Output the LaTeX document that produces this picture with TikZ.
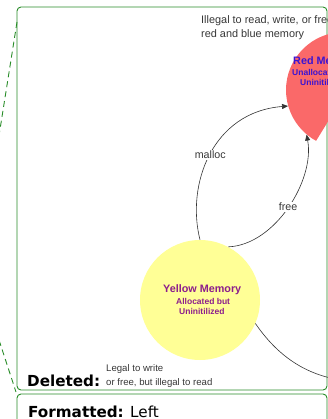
\documentclass[tikz,border=0pt]{standalone}
\usepackage{fontspec}
\setmainfont{Liberation Sans}
\newfontfamily\balloonfont{DejaVu Sans}
\usetikzlibrary{arrows.meta}

\definecolor{trackgreen}{RGB}{40,140,40}
\definecolor{memyellow}{RGB}{255,255,150}
\definecolor{memred}{RGB}{250,105,105}
\definecolor{redlabel}{RGB}{60,20,210}
\definecolor{yellowlabel}{RGB}{140,30,140}
\definecolor{notegray}{RGB}{55,55,55}

\tikzset{
  balloon/.style={draw=trackgreen, line width=0.9pt, rounded corners=4pt},
  leader/.style={draw=trackgreen, line width=0.9pt, dash pattern=on 6pt off 4pt},
  memcircle/.style={circle, inner sep=0pt, minimum size=116pt},
  transition/.style={draw=black!80, line width=0.6pt},
  arrowed/.style={transition, -{Triangle[length=6pt,width=5pt]}},
  edgelabel/.style={fill=white, inner sep=1pt, text=notegray, font=\fontsize{10.7}{12}\selectfont},
  notetext/.style={anchor=base west, inner sep=0pt, text=notegray},
  titletext/.style={anchor=base west, inner sep=0pt, font=\fontsize{10.8}{12}\selectfont\bfseries},
  subtext/.style={anchor=base west, inner sep=0pt, font=\fontsize{8.5}{10}\selectfont\bfseries},
}

\begin{document}
\begin{tikzpicture}[x=1pt, y=-1pt]
  \useasboundingbox (0,0) rectangle (328,419);
  \clip (0,0) rectangle (328,419);

  % comment balloons and their leader lines
  \draw[balloon] (17,7) rectangle (327,390);
  \draw[balloon] (17,394) rectangle (327,445);
  \coordinate (lead1a) at (17,22);
  \coordinate (lead1b) at (-2,142);
  \coordinate (lead2a) at (-1,340);
  \coordinate (lead2b) at (16,392);
  \draw[leader] (lead1a) -- (lead1b);
  \draw[leader] (lead2a) -- (lead2b);

  % memory states
  \fill[memyellow] (200,300) circle[radius=60pt];
  \node[memcircle, minimum size=120pt] (ym) at (200,300) {};
  \begin{scope}
    \clip (230,0) -- (360,0) -- (360,80) -- (340,102) -- (316,141) -- (230,165) -- cycle;
    \fill[memred] (344,90) circle[radius=58pt];
  \end{scope}
  \node[memcircle] (rm) at (344,90) {};

  % state labels
  \node[titletext, text=yellowlabel] at (163,292) {Yellow Memory};
  \node[subtext, text=yellowlabel] at (176,304) {Allocated but};
  \node[subtext, text=yellowlabel] at (179,314) {Uninitilized};
  \node[titletext, text=redlabel] at (293,65) {Red Memory};
  \node[subtext, text=redlabel] at (292,76) {Unallocated};
  \node[subtext, text=redlabel] at (300,86) {Uninitilized};

  % transitions
  \draw[arrowed] (ym.north) .. controls (186,185) and (212,112) .. (rm.196)
    node[edgelabel, pos=0.5] {malloc};
  \draw[arrowed] (ym.62) .. controls (275,245) and (315,180) .. (rm.230)
    node[edgelabel, pos=0.5] {free};
  \coordinate (offright) at (335,379);
  \draw[transition] (ym.-23) .. controls (275,352) and (300,372) .. (offright);

  % balloon texts
  \node[notetext, font=\fontsize{10.9}{12}\selectfont] at (201,24) {Illegal to read, write, or free};
  \node[notetext, font=\fontsize{10.9}{12}\selectfont] at (201,37.5) {red and blue memory};
  \node[notetext, text=black, font=\balloonfont\fontsize{15.2}{17}\selectfont\bfseries] at (27,386) {Deleted:};
  \node[notetext, font=\fontsize{9.6}{11}\selectfont] at (106,371) {Legal to write};
  \node[notetext, font=\fontsize{9.6}{11}\selectfont] at (106,385) {or free, but illegal to read};
  \node[notetext, text=black, font=\balloonfont\fontsize{15.2}{17}\selectfont] at (28,417)
    {\textbf{Formatted:} Left};
\end{tikzpicture}
\end{document}
